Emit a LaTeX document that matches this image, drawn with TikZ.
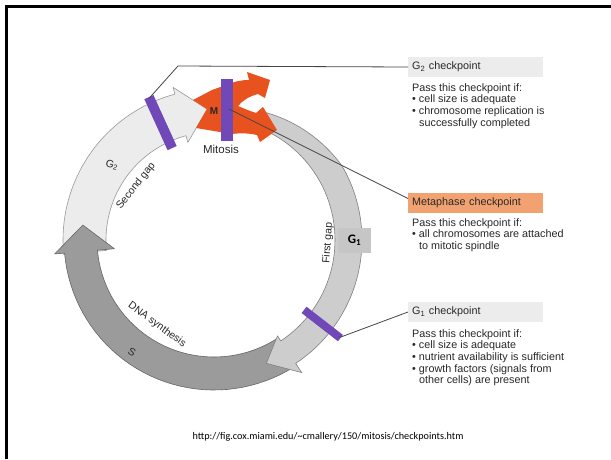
\documentclass[tikz,border=0pt]{standalone}
\usepackage{fontspec}
\setmainfont{Liberation Sans}
\newfontfamily\calfont{Carlito}
\usetikzlibrary{calc}
\definecolor{gtwo}{RGB}{236,236,236}
\definecolor{gone}{RGB}{205,205,205}
\definecolor{sband}{RGB}{155,155,155}
\definecolor{mred}{RGB}{232,82,30}
\definecolor{barcol}{RGB}{112,72,184}
\definecolor{bardark}{RGB}{84,50,150}
\definecolor{boxgray}{RGB}{236,236,236}
\definecolor{boxorange}{RGB}{242,162,112}
\definecolor{gonebox}{RGB}{198,198,198}
\definecolor{linecol}{RGB}{70,70,70}
\definecolor{txt}{RGB}{40,40,40}
\begin{document}
\begin{tikzpicture}[x=1pt,y=-1pt,
  band/.style={line width=0.6pt, line join=round},
  conn/.style={draw=linecol, line width=0.8pt},
  bar/.style={draw=barcol, line width=10pt},
  titlebox/.style={anchor=west, inner sep=0pt, minimum width=135pt, minimum height=20pt, text width=127pt, align=left, text=txt, font=\fontsize{10.8}{12}\selectfont},
  body/.style={anchor=north west, inner sep=0pt, align=left, text=txt, font=\fontsize{10.8}{11.7}\selectfont},
  ringtext/.style={font=\fontsize{10.5}{12}\selectfont, inner sep=0pt, text=txt}
]
\useasboundingbox (0,0) rectangle (611,459);
\fill[white] (0,0) rectangle (611,459);
\draw[line width=3pt] (6,459) -- (6,6) -- (611,6);

\begin{scope}[shift={(214,240)}, yscale=-1]
  % G2 band
  \draw[band, fill=gtwo, draw=gray!80] plot[domain=185.5:105, samples=40] (\x:151) -- (105:158) -- (93:131) -- (105:101) -- plot[domain=105:185.5, samples=40] (\x:108) -- cycle;
  % S band
  \draw[band, fill=sband, draw=gray!80!black] plot[domain=-58:-175, samples=40] (\x:150) -- (-175:160) -- (-186.5:132) -- (-175:100) -- plot[domain=-175:-58, samples=40] (\x:117) -- cycle;
  % G1 band
  \draw[band, fill=gone, draw=gray] plot[domain=70:-56.5, samples=50] (\x:{148-11*max(0,(\x-30)/40)}) -- (-56.5:159) -- (-67:134) -- (-56.5:115) -- plot[domain=-56.5:70, samples=50] (\x:121) -- cycle;
  % checkpoint bars
  \draw[bar] (114.5:101) -- (114.5:157);
  \draw[bar, line width=8pt] (-37.8:114) -- (-37.8:160);
  \coordinate (g2bartop) at (114.5:156);
  \coordinate (g1barend) at (-37.8:159);
\end{scope}

% Mitosis arrows
\fill[mred] (193,100) -- (212,90) -- (226,85) .. controls (236,81) and (242,80) .. (249,80) -- (247,72) -- (270,80) -- (265,98) -- (258,94) .. controls (250,96) and (243,100) .. (238,106) .. controls (245,109) and (250,111) .. (256,113) -- (263,107) -- (277,130) -- (260,142) -- (257,135) .. controls (248,133) and (240,133) .. (232,134) -- (196,128) -- (207,109) -- cycle;
\fill[barcol] (221,79) rectangle (233,141);
\coordinate (mbarc) at (229,109);

% ring labels
\node[ringtext, font=\bfseries\fontsize{10}{12}\selectfont] (mlab) at (214,111) {M};
\node[ringtext, font=\fontsize{11.5}{13}\selectfont] (mitosis) at (221,149) {Mitosis};
\node[ringtext, rotate=-15] (g2lab) at (112,165) {G\textsubscript{2}};
\node[ringtext, rotate=52] (secgap) at (136,186) {Second gap};
\node[ringtext, rotate=86] (firstgap) at (328,243) {First gap};
\node[ringtext, rotate=-36] (dna) at (157,325) {DNA synthesis};
\node[ringtext, rotate=-30] (slab) at (132,352) {S};
\node[fill=gonebox, inner sep=0pt, minimum width=33pt, minimum height=25pt, font=\calfont\bfseries\fontsize{13}{14}\selectfont] (g1lab) at (354.5,240.5) {G\textsubscript{1}};

% checkpoint boxes
\node[titlebox, fill=boxgray] (g2box) at (408,67) {G\textsubscript{2} checkpoint};
\node[body] (g2body) at (412,83) {Pass this checkpoint if:\\
• cell size is adequate\\
• chromosome replication is\\
\hspace*{7pt}successfully completed};

\node[titlebox, fill=boxorange] (mbox) at (408,202.5) {Metaphase checkpoint};
\node[body] (mbody) at (412,218) {Pass this checkpoint if:\\
• all chromosomes are attached\\
\hspace*{7pt}to mitotic spindle};

\node[titlebox, fill=boxgray] (g1box) at (408,312) {G\textsubscript{1} checkpoint};
\node[body] (g1body) at (412,329) {Pass this checkpoint if:\\
• cell size is adequate\\
• nutrient availability is sufficient\\
• growth factors (signals from\\
\hspace*{7pt}other cells) are present};

% connectors
\draw[conn] (g2bartop) -- (178,66) -- (g2box.west);
\draw[conn] (mbarc) -- ($(mbox.west)+(0,-4)$);
\draw[conn] (g1barend) -- (g1box.west);

% footer
\node[inner sep=0pt, font=\calfont\fontsize{10.2}{12}\selectfont] (url) at (328,437) {http://fig.cox.miami.edu/\textasciitilde cmallery/150/mitosis/checkpoints.htm};
\end{tikzpicture}
\end{document}
